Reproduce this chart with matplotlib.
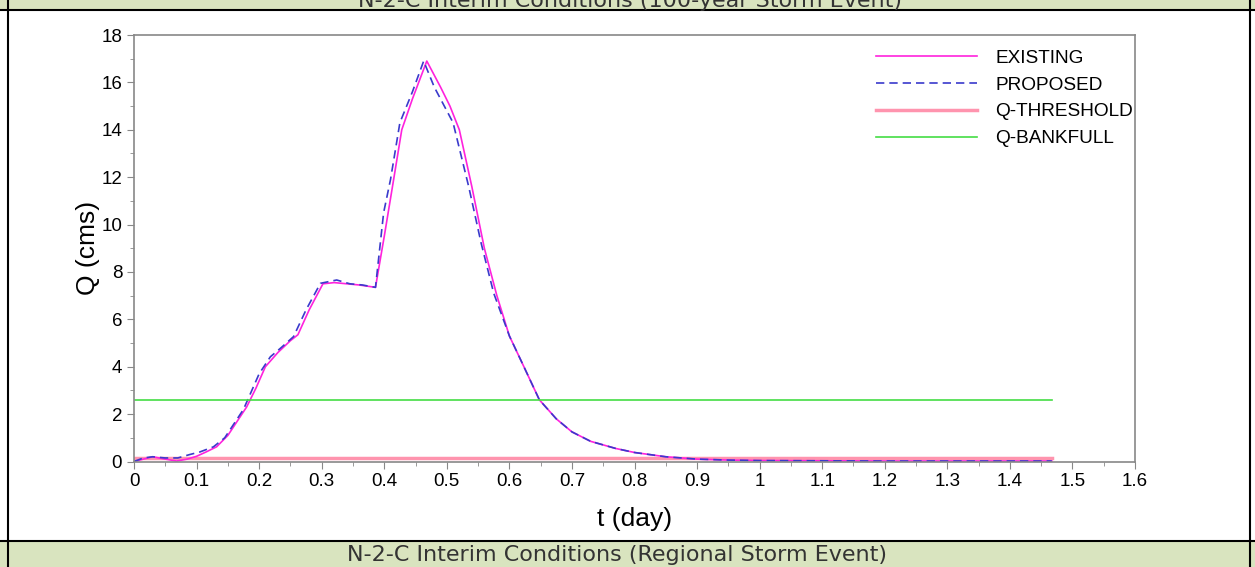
import matplotlib
matplotlib.use("Agg")
import matplotlib.pyplot as plt
from matplotlib.patches import Rectangle
from matplotlib.lines import Line2D
from matplotlib.ticker import MultipleLocator

# hydrograph, existing vs proposed (days, cms)
t_existing = [0.0, 0.015, 0.03, 0.05, 0.068, 0.085, 0.1, 0.115, 0.132, 0.15, 0.165, 0.18,
              0.195, 0.21, 0.23, 0.25, 0.262, 0.28, 0.302, 0.32, 0.34, 0.36, 0.386, 0.40,
              0.415, 0.428, 0.445, 0.468, 0.49, 0.505, 0.52, 0.54, 0.56, 0.58, 0.60,
              0.625, 0.648, 0.675, 0.70, 0.73, 0.77, 0.80, 0.85, 0.90, 0.95, 1.0, 1.1,
              1.2, 1.3, 1.467]
q_existing = [0.0, 0.1, 0.2, 0.1, 0.02, 0.1, 0.22, 0.4, 0.62, 1.1, 1.7, 2.3,
              3.1, 4.0, 4.6, 5.1, 5.35, 6.4, 7.5, 7.55, 7.5, 7.45, 7.35, 9.5,
              11.9, 14.0, 15.3, 16.9, 15.8, 15.0, 14.0, 11.6, 9.0, 7.0, 5.3,
              3.9, 2.6, 1.8, 1.25, 0.85, 0.55, 0.38, 0.2, 0.1, 0.06, 0.04, 0.03,
              0.02, 0.02, 0.02]

t_proposed = [0.0, 0.015, 0.03, 0.05, 0.07, 0.09, 0.105, 0.127, 0.145, 0.16, 0.175, 0.2,
              0.218, 0.235, 0.255, 0.275, 0.298, 0.324, 0.345, 0.365, 0.386, 0.399,
              0.41, 0.425, 0.445, 0.463, 0.48, 0.51, 0.535, 0.555, 0.575, 0.60, 0.625,
              0.648, 0.675, 0.70, 0.73, 0.77, 0.80, 0.85, 0.90, 0.95, 1.0, 1.1, 1.2,
              1.3, 1.467]
q_proposed = [0.0, 0.15, 0.2, 0.15, 0.15, 0.3, 0.4, 0.62, 1.0, 1.6, 2.2, 3.7,
              4.42, 4.8, 5.27, 6.4, 7.52, 7.66, 7.5, 7.45, 7.35, 10.5,
              11.9, 14.3, 15.6, 16.9, 15.8, 14.3, 11.6, 9.2, 7.1, 5.3, 3.9,
              2.6, 1.8, 1.25, 0.85, 0.55, 0.38, 0.2, 0.1, 0.06, 0.04, 0.03, 0.02,
              0.02, 0.02]

t_end = 1.467
q_threshold = 0.15
q_bankfull = 2.6

top_title = "N-2-C Interim Conditions (100-year Storm Event)"
bottom_title = "N-2-C Interim Conditions (Regional Storm Event)"

plt.rcParams['font.family'] = ['Liberation Sans', 'DejaVu Sans']

W, H = 1255, 567
fig = plt.figure(figsize=(W / 100, H / 100), dpi=100)

# table-style banners and cell borders
banner = '#d9e4bf'
fig.patches.append(Rectangle((0, 1 - 10 / H), 1, 10 / H, transform=fig.transFigure,
                             facecolor=banner, edgecolor='none', zorder=0))
fig.patches.append(Rectangle((0, 0), 1, 26 / H, transform=fig.transFigure,
                             facecolor=banner, edgecolor='none', zorder=0))
for y in (1 - 10 / H, 26 / H):
    fig.add_artist(Line2D([0, 1], [y, y], transform=fig.transFigure, color='black', lw=1.5))
for x in (8 / W, 1250 / W):
    fig.add_artist(Line2D([x, x], [0, 1], transform=fig.transFigure, color='black', lw=1.5))
fig.text(630 / W, 1 - 1 / H, top_title, ha='center', va='center', fontsize=16,
         family='DejaVu Sans', color='#333333')
fig.text(617 / W, 12 / H, bottom_title, ha='center', va='center', fontsize=16,
         family='DejaVu Sans', color='#333333')

ax = fig.add_axes([134 / W, 1 - 461.5 / H, 1001 / W, 426.5 / H])

ax.plot(t_existing, q_existing, color='#ff22dd', lw=1.2, label='EXISTING')
ax.plot(t_proposed, q_proposed, color='#3a3acc', lw=1.2, ls=(0, (5, 3)), label='PROPOSED')
ax.plot([0, t_end], [q_threshold, q_threshold], color='#ff7a9a', lw=2.5, alpha=0.8,
        label='Q-THRESHOLD', zorder=1)
ax.plot([0, t_end], [q_bankfull, q_bankfull], color='#44dd44', lw=1.2, label='Q-BANKFULL')

ax.set_xlim(0, 1.6)
ax.set_ylim(0, 18)
xt = [round(0.1 * i, 1) for i in range(17)]
ax.set_xticks(xt)
ax.set_xticklabels(['0' if v == 0 else ('1' if v == 1 else f'{v:g}') for v in xt])
ax.xaxis.set_minor_locator(MultipleLocator(0.05))
ax.yaxis.set_major_locator(MultipleLocator(2))
ax.yaxis.set_minor_locator(MultipleLocator(1))

for s in ax.spines.values():
    s.set_color('#888888')
    s.set_linewidth(1.2)
ax.tick_params(which='both', direction='out', colors='#888888', labelcolor='black',
               labelsize=13.5)
ax.tick_params(which='major', length=5)
ax.tick_params(which='minor', length=3)

ax.set_xlabel('t (day)', fontsize=19, labelpad=12)
ax.set_ylabel('Q (cms)', fontsize=19, labelpad=1)

ax.legend(loc='upper right', bbox_to_anchor=(0.998, 0.966), frameon=False,
          handlelength=5.3, fontsize=13.7, labelspacing=0.5, borderaxespad=0,
          borderpad=0, handletextpad=0.95)

fig.savefig('out.png', dpi=100)
